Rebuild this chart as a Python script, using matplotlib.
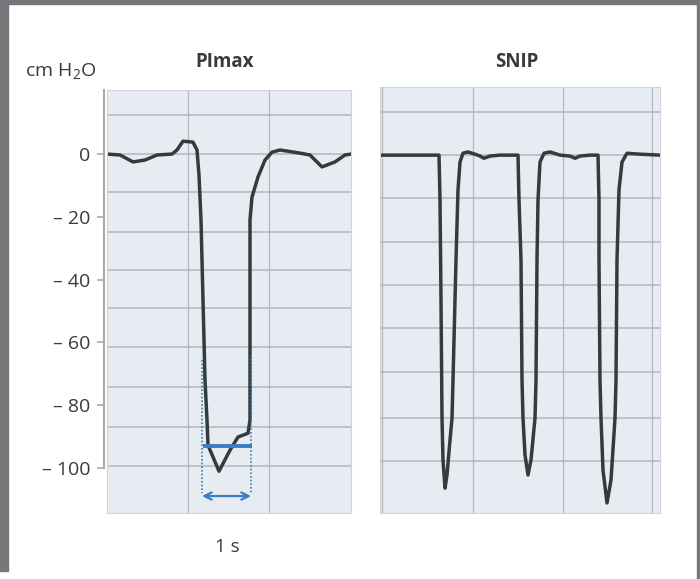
import matplotlib.pyplot as plt
from matplotlib.patches import Rectangle

plt.rcParams['font.family'] = ['Open Sans', 'DejaVu Sans']
plt.rcParams['mathtext.fontset'] = 'custom'
plt.rcParams['mathtext.rm'] = 'Open Sans'

# PImax trace, time (s) vs pressure (cm H2O)
pimax_t = [0, 0.26, 0.52, 0.76, 1.0, 1.3, 1.4, 1.52, 1.72, 1.8, 1.84, 1.88, 1.92,
           1.96, 2.0, 2.02, 2.24, 2.46, 2.62, 2.82, 2.86, 2.86, 2.9, 3.02, 3.16,
           3.3, 3.46, 3.86, 4.06, 4.3, 4.56, 4.76, 4.88]
pimax_p = [0, -0.3, -2.5, -1.9, -0.3, 0, 1.3, 4.1, 3.8, 1.3, -6.7, -21.0, -46.5,
           -72.0, -84.7, -92.7, -101.0, -94.3, -90.1, -88.9, -84.7, -21.0, -13.7, -7.3, -1.9,
           0.6, 1.3, 0.3, -0.3, -4.1, -2.5, -0.3, 0]

# SNIP trace, three sniffs
snip_t = [0, 1.18, 1.20, 1.22, 1.24, 1.26, 1.30, 1.34, 1.40, 1.44, 1.46, 1.50, 1.52,
          1.56, 1.60, 1.66, 1.76, 1.90, 2.00, 2.08, 2.20, 2.40, 2.74,
          2.76, 2.78, 2.82, 2.84, 2.86, 2.90, 2.96, 3.02, 3.10, 3.12, 3.14, 3.16,
          3.20, 3.28, 3.40, 3.60, 3.80, 3.90, 4.00, 4.20,
          4.36, 4.38, 4.38, 4.40, 4.42, 4.46, 4.54, 4.62, 4.70, 4.72, 4.74, 4.78,
          4.84, 4.94, 5.20, 5.60]
snip_p = [0, 0, -14.3, -46.2, -83.8, -97.1, -106.1, -101.9, -90.8, -83.8, -71.7, -46.2, -33.4,
          -11.1, -2.2, 0.6, 1.0, 0.3, -0.3, -1.0, -0.3, 0, 0,
          0, -14.3, -33.4, -71.7, -83.8, -95.5, -101.9, -97.1, -83.8, -71.7, -33.4, -14.3,
          -2.2, 0.6, 1.0, 0, -0.3, -1.0, -0.3, 0,
          0, -14.3, -33.4, -71.7, -83.8, -100.3, -110.8, -103.5, -83.8, -71.7, -33.4, -11.1,
          -2.2, 0.6, 0.3, 0]

yticks = [0, -20, -40, -60, -80, -100]
ytick_labels = ['0', '– 20', '– 40', '– 60', '– 80', '– 100']

# chart paper grid seen in the photos
pimax_hgrid = [12.4, 0, -12.1, -24.8, -36.9, -49.0, -61.5, -74.2, -86.9, -99.4]
pimax_vgrid = [1.62, 3.24]
snip_hgrid = [13.7, 0, -13.7, -27.7, -41.4, -55.1, -69.1, -83.8, -97.5]
snip_vgrid = [0.04, 1.86, 3.66, 5.44]

# plateau and 1 s window
plateau_p = -93
plateau_t = (1.92, 2.9)
window_t = (1.9, 2.88)

W, H = 700, 579
paper = '#e7ecf2'
trace = '#343b3c'
blue = '#3b7cc2'
txt = '#3a3a3a'


def box(x0, y0, x1, y1):
    return [x0 / W, 1 - y1 / H, (x1 - x0) / W, (y1 - y0) / H]


def paper_grid(ax, hg, vg):
    for y in hg:
        ax.axhline(y, color='#a0abb1', lw=1.1, alpha=0.8, zorder=1)
    for x in vg:
        ax.axvline(x, color='#a6b0b6', lw=0.9, alpha=0.85, zorder=1)
    ax.add_patch(Rectangle((0, 0), 1, 1, transform=ax.transAxes, fill=False,
                           ec='#cfd4d8', lw=0.8, clip_on=False, zorder=5))


fig = plt.figure(figsize=(W / 100, H / 100), dpi=100)
fig.patch.set_facecolor('white')

ax1 = fig.add_axes(box(107, 90, 351, 513))
ax1.set_facecolor(paper)
ax1.set_xlim(0, 4.88)
ax1.set_ylim(-114.3, 20.4)
paper_grid(ax1, pimax_hgrid, pimax_vgrid)
ax1.plot(pimax_t, pimax_p, color=trace, lw=2.5, solid_joinstyle='round', zorder=3)

# plateau bar, dotted window and 1 s arrow
ax1.plot(plateau_t, [plateau_p, plateau_p], color=blue, lw=2.8, solid_capstyle='butt', zorder=4)
ax1.plot([window_t[0]] * 2, [-65.6, -108], color=blue, lw=1.2, ls=(0, (1, 1.2)), zorder=4)
ax1.plot([window_t[1]] * 2, [-64, -108], color=blue, lw=1.2, ls=(0, (1, 1.2)), zorder=4)
ax1.annotate('', xy=(window_t[1], -108.9), xytext=(window_t[0], -108.9),
             arrowprops=dict(arrowstyle='<->', color=blue, lw=1.6, mutation_scale=13,
                             shrinkA=0, shrinkB=0), zorder=4)

for s in ['top', 'right', 'bottom']:
    ax1.spines[s].set_visible(False)
ax1.spines['left'].set_position(('outward', 2.2))
ax1.spines['left'].set_bounds(-100, 20.4)
ax1.spines['left'].set_color('#a9a9a9')
ax1.spines['left'].set_linewidth(1.5)
ax1.set_xticks([])
ax1.set_yticks(yticks)
ax1.set_yticklabels(ytick_labels)
ax1.tick_params(axis='y', direction='out', length=5, width=1.2, color='#a9a9a9',
                pad=5, labelsize=14, labelcolor=txt)

ax2 = fig.add_axes(box(380, 87, 660, 513))
ax2.set_facecolor(paper)
ax2.set_xlim(0, 5.6)
ax2.set_ylim(-114, 21.7)
paper_grid(ax2, snip_hgrid, snip_vgrid)
ax2.plot(snip_t, snip_p, color=trace, lw=2.5, solid_joinstyle='round', zorder=3)
for s in ax2.spines.values():
    s.set_visible(False)
ax2.set_xticks([])
ax2.set_yticks([])

fig.text(225 / W, 1 - 67 / H, 'PImax', ha='center', va='baseline', fontsize=13.5,
         fontweight='bold', color=txt)
fig.text(517 / W, 1 - 67 / H, 'SNIP', ha='center', va='baseline', fontsize=13.5,
         fontweight='bold', color=txt)
fig.text(25 / W, 1 - 77 / H, r'cm H$_\mathrm{2}$O', ha='left', va='baseline', fontsize=14,
         color=txt)
fig.text(227 / W, 1 - 552 / H, '1 s', ha='center', va='baseline', fontsize=13.5, color=txt)

# grey frame around the figure
frame = '#76777b'
fig.patches.append(Rectangle((0, 1 - 4 / H), 1, 4 / H, transform=fig.transFigure,
                             color=frame, zorder=0))
fig.patches.append(Rectangle((0, 1 - 571 / H), 8 / W, 571 / H, transform=fig.transFigure,
                             color=frame, zorder=0))
fig.patches.append(Rectangle((697 / W, 0), 3 / W, 1, transform=fig.transFigure,
                             color=frame, zorder=0))

fig.savefig('out.png', dpi=100)
